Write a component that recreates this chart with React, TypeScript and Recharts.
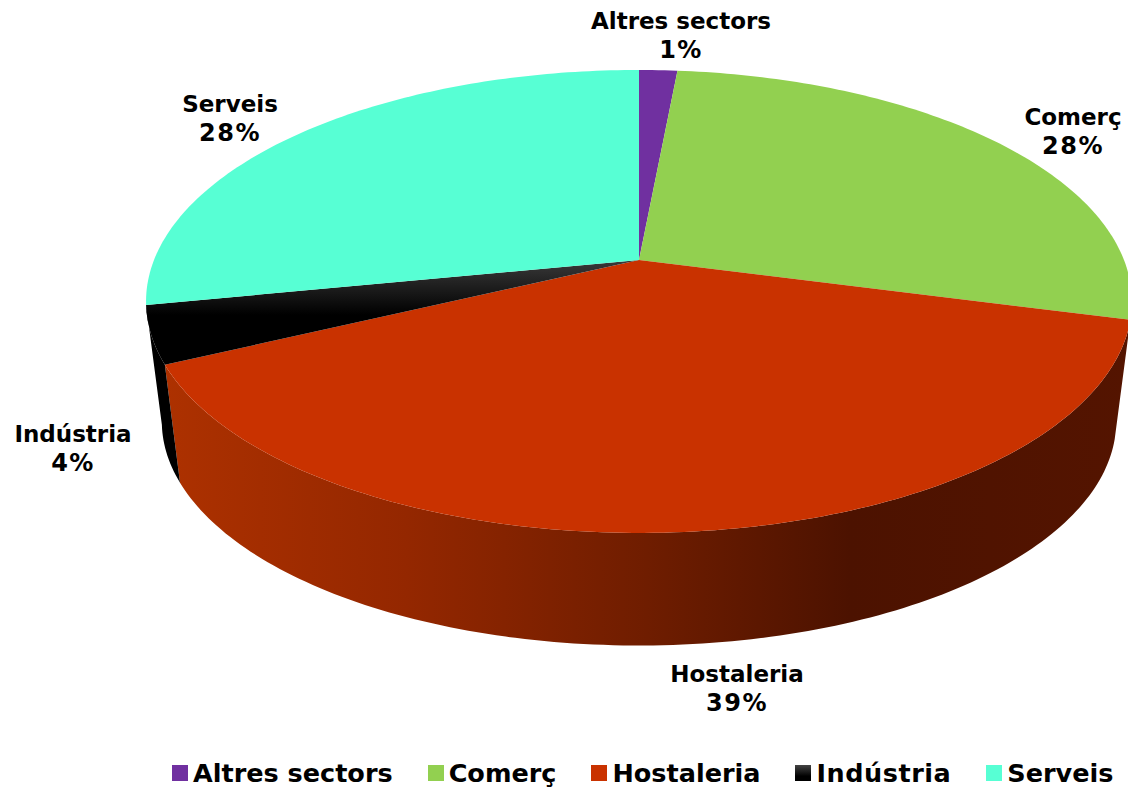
import { PieChart, Pie, Legend } from "recharts";

const CHART_WIDTH = 1128;
const CHART_HEIGHT = 788;
const FONT = "'DejaVu Sans', Verdana, sans-serif";

const categories = ["Altres sectors", "Comerç", "Hostaleria", "Indústria", "Serveis"];
const shares = [1.49, 27.61, 38.8, 4.0, 28.1];
const colors = ["#7030a0", "#92d050", "#c93200", "url(#industriaTop)", "#57ffd4"];
const legendColors = ["#7030a0", "#92d050", "#c93200", "linear-gradient(#444, #000 70%)", "#57ffd4"];
const legendSpacing = [0, 0, 0, 0.55, 0];
const wallFills = ["none", "none", "url(#hostaleriaWall)", "#000000", "none"];

const tableData = categories.map((name, i) => ({ name, value: shares[i], fill: colors[i] }));

// tilted disc: perspective squash of the plain pie
const TILT = 0.179;
const SQUASH = 0.462;
const ELLIPSE_DROP = 41;
const FLOOR_SCALE = 0.968;
const FLOOR_DROP = 120;

// centre of each two line label, relative to the pie centre
const labelOffsets = [
    { x: 42, y: -231 },
    { x: 434, y: -135 },
    { x: 98, y: 422 },
    { x: -566, y: 182 },
    { x: -409, y: -148 },
];

const RAD = Math.PI / 180;

function project(deg: number, cx: number, cy: number, r: number) {
    const u = Math.cos(deg * RAD);
    const v = -Math.sin(deg * RAD);
    const w = 1 - TILT * v;
    return { x: cx + (r * u) / w, y: cy + (r * SQUASH * v) / w };
}

function toFloor(p: { x: number; y: number }, cx: number, cy: number) {
    const midY = cy + ELLIPSE_DROP;
    return {
        x: cx + (p.x - cx) * FLOOR_SCALE,
        y: midY + FLOOR_DROP + (p.y - midY) * FLOOR_SCALE,
    };
}

function arcAngles(start: number, end: number) {
    const steps = Math.max(2, Math.ceil(Math.abs(end - start)));
    const out: number[] = [];
    for (let i = 0; i <= steps; i++) out.push(start + ((end - start) * i) / steps);
    return out;
}

function toPath(points: { x: number; y: number }[]) {
    return points.map((p, i) => `${i ? "L" : "M"}${p.x.toFixed(2)},${p.y.toFixed(2)}`).join(" ") + " Z";
}

function Slice(props: any) {
    const { cx, cy, outerRadius, startAngle, endAngle, fill, index } = props;
    const rim = arcAngles(startAngle, endAngle).map((a) => project(a, cx, cy, outerRadius));
    const wall = wallFills[index];
    const floor = rim.map((p) => toFloor(p, cx, cy)).reverse();
    return (
        <g>
            {wall !== "none" && <path d={toPath([...rim, ...floor])} fill={wall} />}
            <path d={toPath([{ x: cx, y: cy }, ...rim])} fill={fill} />
        </g>
    );
}

function SliceLabel(props: any) {
    const { cx, cy, index, name, percent } = props;
    const x = cx + labelOffsets[index].x;
    const y = cy + labelOffsets[index].y;
    return (
        <text x={x} y={y} textAnchor="middle" fontFamily={FONT} fontWeight="bold" fontSize={23} fill="#000">
            <tspan x={x} dy={0}>{name}</tspan>
            <tspan x={x} dy={29} fontSize={24} letterSpacing={1.5}>{Math.round(percent * 100)}%</tspan>
        </text>
    );
}

function ChartLegend() {
    return (
        <div style={{ display: "flex", alignItems: "center", fontFamily: FONT, fontWeight: "bold", fontSize: 25.5, color: "#000", whiteSpace: "nowrap", lineHeight: "32px" }}>
            {categories.map((name, i) => (
                <div key={name} style={{ display: "flex", alignItems: "center", marginRight: 35, letterSpacing: legendSpacing[i] }}>
                    <span style={{ width: 16, height: 16, marginRight: 5, background: legendColors[i], display: "inline-block" }} />
                    {name}
                </div>
            ))}
        </div>
    );
}

export default function App() {
    return (
        <div style={{ position: "absolute", left: 0, top: 0, width: CHART_WIDTH, height: CHART_HEIGHT, overflow: "hidden", background: "#fff" }}>
            <PieChart width={CHART_WIDTH} height={CHART_HEIGHT} margin={{ top: 0, right: 0, bottom: 0, left: 0 }}>
                <defs>
                    <linearGradient id="hostaleriaWall" gradientUnits="userSpaceOnUse" x1={165} y1={0} x2={1130} y2={0}>
                        <stop offset="0" stopColor="#ad3100" />
                        <stop offset="0.25" stopColor="#942700" />
                        <stop offset="0.5" stopColor="#6f1d00" />
                        <stop offset="0.71" stopColor="#4c1200" />
                        <stop offset="1" stopColor="#541400" />
                    </linearGradient>
                    <linearGradient id="industriaTop" gradientUnits="userSpaceOnUse" x1={0} y1={260} x2={0} y2={315}>
                        <stop offset="0" stopColor="#3a3a3a" />
                        <stop offset="1" stopColor="#000000" />
                    </linearGradient>
                </defs>
                <Pie
                    data={tableData}
                    dataKey="value"
                    nameKey="name"
                    cx={639}
                    cy={260}
                    innerRadius={0}
                    outerRadius={485}
                    startAngle={90}
                    endAngle={-270}
                    stroke="none"
                    paddingAngle={0}
                    shape={Slice}
                    label={SliceLabel}
                    labelLine={false}
                    isAnimationActive={false}
                />
                <Legend content={ChartLegend} wrapperStyle={{ left: 172, top: 757, width: "auto", height: 32 }} />
            </PieChart>
        </div>
    );
}
